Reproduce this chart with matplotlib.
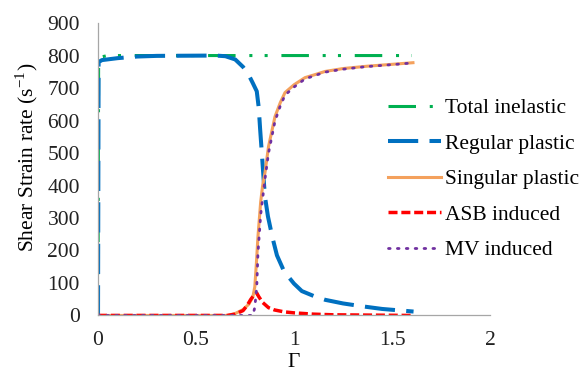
import matplotlib

matplotlib.use("Agg")
import matplotlib.pyplot as plt

# strain-rate partition vs. normalised shear strain Gamma
gamma_total = [0.0, 0.003, 0.01, 0.05, 0.5, 1.0, 1.6]
total_inelastic = [0, 770, 795, 800, 800, 800, 800]

gamma_regular = [0.0, 0.003, 0.02, 0.1, 0.2, 0.3, 0.6, 0.65, 0.7, 0.74, 0.765, 0.79,
                 0.81, 0.82, 0.827, 0.837, 0.845, 0.852, 0.867, 0.89, 0.913, 0.95,
                 1.0, 1.04, 1.1, 1.16, 1.25, 1.35, 1.45, 1.55, 1.61]
regular_plastic = [0, 780, 786, 792, 797, 799, 800, 798, 788, 765, 745, 715,
                   690, 640, 575, 490, 420, 365, 305, 240, 185, 135,
                   98, 75, 60, 48, 37, 28, 20, 15, 12]

gamma_singular = [0.0, 0.66, 0.7, 0.74, 0.77, 0.79, 0.8, 0.808, 0.816, 0.83, 0.84,
                  0.852, 0.87, 0.903, 0.93, 0.954, 1.0, 1.056, 1.1, 1.158, 1.25,
                  1.37, 1.5, 1.607]
singular_plastic = [0, 0, 6, 18, 35, 57, 88, 160, 242, 350, 400,
                    440, 520, 612, 655, 686, 710, 732, 740, 751, 760,
                    767, 773, 778]

gamma_asb = [0.0, 0.66, 0.7, 0.74, 0.76, 0.78, 0.8, 0.81, 0.82, 0.84, 0.87, 0.9,
             0.95, 1.0, 1.1, 1.2, 1.4, 1.6]
asb_induced = [0, 0, 4, 15, 30, 50, 66, 69, 58, 40, 24, 17,
               11, 8, 4, 2, 1, 0]

gamma_mv = [0.0, 0.79, 0.8, 0.81, 0.816, 0.83, 0.84, 0.852, 0.87, 0.903, 0.93,
            0.954, 1.0, 1.056, 1.1, 1.158, 1.25, 1.37, 1.5, 1.6]
mv_induced = [0, 0, 25, 88, 190, 310, 360, 420, 500, 598, 645,
              678, 703, 728, 737, 749, 758, 766, 772, 777]

x_ticks = [0, 0.5, 1, 1.5, 2]
x_tick_labels = ["0", "0.5", "1", "1.5", "2"]
y_ticks = list(range(0, 901, 100))

plt.rcParams["font.family"] = ["Liberation Serif", "DejaVu Serif"]
plt.rcParams["mathtext.fontset"] = "custom"
plt.rcParams["mathtext.rm"] = "Liberation Serif"

FS = 15.5

fig = plt.figure(figsize=(5.88, 3.72), dpi=100)
ax = fig.add_axes([0.1667, 0.152, 0.6666, 0.786])

ax.plot(gamma_total, total_inelastic, color="#00B050", lw=2.2,
        linestyle=(0, (9, 4.5, 1, 4, 1, 4.5)), label="Total inelastic")
ax.plot(gamma_regular, regular_plastic, color="#0070C0", lw=2.9,
        linestyle=(0, (7.5, 2.8)), label="Regular plastic")
ax.plot(gamma_singular, singular_plastic, color="#F4A15D", lw=2.2,
        label="Singular plastic")
ax.plot(gamma_asb, asb_induced, color="#FF0000", lw=2.5,
        linestyle=(0, (2.6, 1.1)), label="ASB induced")
ax.plot(gamma_mv, mv_induced, color="#7030A0", lw=2.0,
        linestyle=(0, (0.6, 2.6)), dash_capstyle="round", label="MV induced")

ax.set_xlim(0, 2)
ax.set_ylim(0, 900)
ax.set_xticks(x_ticks)
ax.set_xticklabels(x_tick_labels)
ax.set_yticks(y_ticks)
ax.tick_params(length=0, labelsize=FS, colors="#222222")
ax.tick_params(axis="y", pad=13)
ax.tick_params(axis="x", pad=11)

for side in ("top", "right"):
    ax.spines[side].set_visible(False)
for side in ("left", "bottom"):
    ax.spines[side].set_color("#A6A6A6")
    ax.spines[side].set_linewidth(0.9)

ax.set_xlabel("Γ", fontsize=FS, labelpad=2)
ax.set_ylabel(r"Shear Strain rate (s$^{\mathregular{-1}}$)", fontsize=FS)
ax.yaxis.set_label_coords(-0.148, 0.54)

fig.legend(loc="upper left", bbox_to_anchor=(388 / 588, (372 - 98) / 372),
           frameon=False, fontsize=FS, handlelength=2.45, handletextpad=0.2,
           labelspacing=0.72, borderpad=0, borderaxespad=0)

fig.savefig("out.png", dpi=100)
